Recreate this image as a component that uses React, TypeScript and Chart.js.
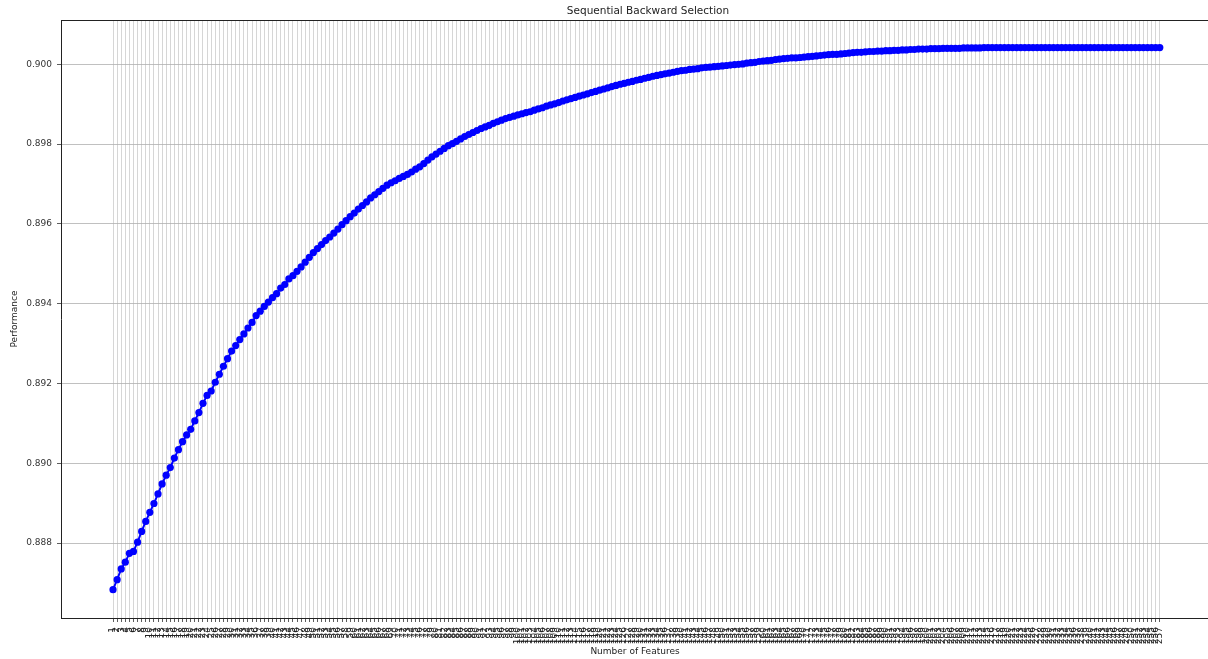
import React, { useEffect, useRef } from 'react';
import { Chart, registerables } from 'chart.js';

Chart.register(...registerables);

const performanceScores: number[] = [
  0.88683, 0.88708, 0.88735, 0.88752, 0.88774, 0.88779, 0.88802, 0.88829, 0.88854, 0.88877,
  0.88899, 0.88923, 0.88948, 0.88970, 0.88989, 0.89013, 0.89034, 0.89054, 0.89071, 0.89085,
  0.89106, 0.89127, 0.89150, 0.89170, 0.89181, 0.89203, 0.89223, 0.89243, 0.89262, 0.89281,
  0.89295, 0.89310, 0.89324, 0.89339, 0.89353, 0.89370, 0.89381, 0.89393, 0.89404, 0.89415,
  0.89425, 0.89439, 0.89448, 0.89462, 0.89470, 0.89481, 0.89492, 0.89504, 0.89516, 0.89528,
  0.89538, 0.89548, 0.89558, 0.89567, 0.89577, 0.89587, 0.89598, 0.89608, 0.89618, 0.89627,
  0.89637, 0.89646, 0.89655, 0.89665, 0.89673, 0.89681, 0.89689, 0.89697, 0.89703, 0.89708,
  0.89714, 0.89719, 0.89724, 0.89730, 0.89737, 0.89743, 0.89751, 0.89760, 0.89768, 0.89775,
  0.89782, 0.89789, 0.89796, 0.89801, 0.89807, 0.89813, 0.89819, 0.89824, 0.89829, 0.89834,
  0.89839, 0.89843, 0.89847, 0.89852, 0.89856, 0.89860, 0.89864, 0.89867, 0.89870, 0.89873,
  0.89876, 0.89879, 0.89881, 0.89885, 0.89888, 0.89891, 0.89895, 0.89898, 0.89901, 0.89904,
  0.89908, 0.89911, 0.89914, 0.89917, 0.89920, 0.89923, 0.89926, 0.89929, 0.89932, 0.89935,
  0.89938, 0.89941, 0.89944, 0.89947, 0.89950, 0.89952, 0.89955, 0.89957, 0.89960, 0.89962,
  0.89965, 0.89967, 0.89970, 0.89972, 0.89974, 0.89976, 0.89978, 0.89980, 0.89982, 0.89984,
  0.89985, 0.89987, 0.89988, 0.89989, 0.89991, 0.89992, 0.89993, 0.89994, 0.89995, 0.89996,
  0.89997, 0.89998, 0.89999, 0.90000, 0.90001, 0.90003, 0.90004, 0.90005, 0.90007, 0.90008,
  0.90009, 0.90010, 0.90012, 0.90013, 0.90014, 0.90015, 0.90016, 0.90016, 0.90017, 0.90018,
  0.90019, 0.90020, 0.90021, 0.90022, 0.90023, 0.90024, 0.90025, 0.90025, 0.90026, 0.90027,
  0.90028, 0.90029, 0.90030, 0.90030, 0.90031, 0.90032, 0.90032, 0.90033, 0.90033, 0.90034,
  0.90034, 0.90035, 0.90035, 0.90036, 0.90036, 0.90037, 0.90037, 0.90038, 0.90038, 0.90038,
  0.90039, 0.90039, 0.90039, 0.90040, 0.90040, 0.90040, 0.90040, 0.90040, 0.90041, 0.90041,
  0.90041, 0.90041, 0.90041, 0.90042, 0.90042, 0.90042, 0.90042, 0.90042, 0.90042, 0.90042,
  0.90042, 0.90042, 0.90042, 0.90042, 0.90042, 0.90042, 0.90042, 0.90042, 0.90042, 0.90042,
  0.90042, 0.90042, 0.90042, 0.90042, 0.90042, 0.90042, 0.90042, 0.90042, 0.90042, 0.90042,
  0.90042, 0.90042, 0.90042, 0.90042, 0.90042, 0.90042, 0.90042, 0.90042, 0.90042, 0.90042,
  0.90042, 0.90042, 0.90042, 0.90042, 0.90042, 0.90042, 0.90042,
];

const featureCounts: number[] = performanceScores.map((_, i) => i + 1);
const yTickValues: number[] = [0.888, 0.890, 0.892, 0.894, 0.896, 0.898, 0.900];

const chartTitle = 'Sequential Backward Selection';
const xAxisTitle = 'Number of Features';
const yAxisTitle = 'Performance';

const FONT = '"DejaVu Sans", "Liberation Sans", sans-serif';

const mplDecor = {
  id: 'mplDecor',
  afterDraw(chart: any) {
    const { ctx, chartArea } = chart;
    ctx.save();
    ctx.strokeStyle = '#222';
    ctx.lineWidth = 1;
    ctx.beginPath();
    ctx.moveTo(chartArea.left, chartArea.top + 0.5);
    ctx.lineTo(chart.width, chartArea.top + 0.5);
    ctx.stroke();
    ctx.font = `10.5px ${FONT}`;
    ctx.fillStyle = '#222';
    ctx.textAlign = 'center';
    ctx.textBaseline = 'bottom';
    ctx.fillText(chartTitle, 648, chartArea.top - 3);
    ctx.restore();
  },
};

export default function App() {
  const canvasRef = useRef<HTMLCanvasElement>(null);

  useEffect(() => {
    document.body.style.margin = '0';
    const canvas = canvasRef.current;
    if (!canvas) return;
    const span = featureCounts[featureCounts.length - 1] - featureCounts[0];
    const xMin = featureCounts[0] - span * 0.0497;
    const xMax = featureCounts[0] + span * 1.047;

    const chart = new Chart(canvas, {
      type: 'line',
      data: {
        datasets: [
          {
            data: featureCounts.map((f, i) => ({ x: f, y: performanceScores[i] })),
            borderColor: '#0000ff',
            backgroundColor: '#0000ff',
            borderWidth: 2,
            pointRadius: 3.6,
            pointBorderWidth: 0,
            pointBackgroundColor: '#0000ff',
            tension: 0,
            fill: false,
          },
        ],
      },
      plugins: [mplDecor],
      options: {
        animation: false,
        responsive: false,
        maintainAspectRatio: false,
        layout: { padding: { top: 20, right: 0, left: 0, bottom: 0 } },
        plugins: {
          legend: { display: false },
          tooltip: { enabled: false },
          title: { display: false },
        },
        scales: {
          x: {
            type: 'linear',
            min: xMin,
            max: xMax,
            afterBuildTicks: (scale: any) => {
              scale.ticks = featureCounts.map((v) => ({ value: v }));
            },
            afterFit: (scale: any) => {
              scale.height = 41;
            },
            ticks: {
              autoSkip: false,
              minRotation: 90,
              maxRotation: 90,
              padding: 5,
              color: '#222',
              font: { family: FONT, size: 9 },
              callback: (v: any) => String(v),
            },
            grid: {
              color: 'rgba(176,176,176,0.65)',
              lineWidth: 0.8,
              tickLength: 4,
              tickColor: '#333',
            },
            border: { display: true, color: '#222', width: 1 },
            title: {
              display: true,
              text: xAxisTitle,
              color: '#222',
              font: { family: FONT, size: 9 },
              padding: { top: 0, bottom: 2 },
            },
          },
          y: {
            type: 'linear',
            min: 0.88612,
            max: 0.90111,
            afterBuildTicks: (scale: any) => {
              scale.ticks = yTickValues.map((v) => ({ value: v }));
            },
            afterFit: (scale: any) => {
              scale.width = 61;
            },
            ticks: {
              padding: 5,
              color: '#333',
              font: { family: FONT, size: 9 },
              callback: (v: any) => Number(v).toFixed(3),
            },
            grid: {
              color: '#b0b0b0',
              lineWidth: 0.8,
              tickLength: 4,
              tickColor: '#333',
            },
            border: { display: true, color: '#222', width: 1 },
            title: {
              display: true,
              text: yAxisTitle,
              color: '#222',
              font: { family: FONT, size: 9 },
              padding: { top: 9, bottom: 0 },
            },
          },
        },
      },
    });
    return () => chart.destroy();
  }, []);

  return (
    <div style={{ width: 1208, height: 659, position: 'relative', overflow: 'hidden', background: '#fff' }}>
      <canvas ref={canvasRef} width={1213} height={659} style={{ display: 'block' }} />
    </div>
  );
}
